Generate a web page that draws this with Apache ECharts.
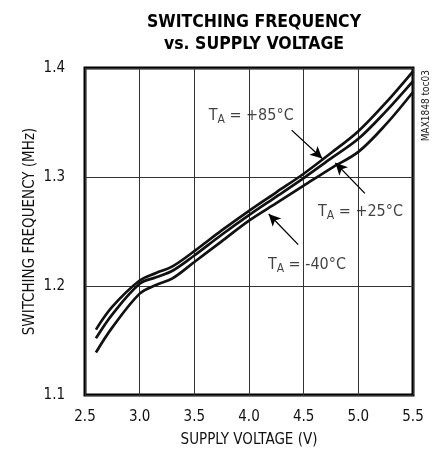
<!DOCTYPE html>
<html>
<head>
<meta charset="utf-8">
<script src="https://cdn.jsdelivr.net/npm/echarts@6/dist/echarts.min.js"></script>
<style>
html,body{margin:0;padding:0;background:#fff;}
#chart{width:435px;height:462px;}
</style>
</head>
<body>
<div id="chart"></div>
<script>
// Supply voltage (V)
var voltage = [2.6, 2.75, 3.0, 3.15, 3.3, 3.5, 3.75, 4.0, 4.25, 4.5, 4.75, 5.0, 5.25, 5.5];
// Switching frequency (MHz)
var freq85 = [1.160, 1.181, 1.205, 1.212, 1.218, 1.232, 1.251, 1.269, 1.286, 1.303, 1.322, 1.342, 1.368, 1.397];
var freq25 = [1.152, 1.174, 1.202, 1.208, 1.214, 1.228, 1.247, 1.265, 1.282, 1.299, 1.317, 1.335, 1.360, 1.388];
var freqM40 = [1.139, 1.162, 1.193, 1.201, 1.207, 1.222, 1.241, 1.260, 1.276, 1.292, 1.308, 1.323, 1.348, 1.378];
var xTicks = ['2.5','3.0','3.5','4.0','4.5','5.0','5.5'];
var yTicks = ['1.1','1.2','1.3','1.4'];
// annotation labels: [x, y, temperature text]
var labels = [[4.02, 1.356, ' = +85°C'], [5.02, 1.268, ' = +25°C'], [4.53, 1.219, ' = -40°C']];
// arrows: [fromX, fromY, toX, toY]
var arrows = [[4.39, 1.343, 4.67, 1.317], [5.06, 1.285, 4.79, 1.313], [4.45, 1.238, 4.18, 1.266]];

var FONT = "'Liberation Sans Narrow','DejaVu Sans Condensed',sans-serif";
function pairs(ys){ return voltage.map(function(v,i){ return [v, ys[i]]; }); }
function lineSeries(name, ys){
  return {name:name, type:'line', data:pairs(ys), smooth:0.35, showSymbol:false, symbol:'none',
    lineStyle:{color:'#111', width:2.7}, z:3, silent:true};
}
var chart = echarts.init(document.getElementById('chart'), null, {renderer:'canvas'});
var option = {
  animation:false,
  backgroundColor:'#fff',
  title:{
    text:'SWITCHING FREQUENCY\nvs. SUPPLY VOLTAGE',
    left:249, top:6, textAlign:'center',
    textStyle:{fontFamily:FONT, fontWeight:'bold', fontSize:17.5, lineHeight:22, color:'#000'}
  },
  grid:{left:85, right:22, top:68, bottom:67, show:true, borderColor:'#000', borderWidth:3, backgroundColor:'transparent'},
  xAxis:{
    type:'value', min:2.5, max:5.5, interval:0.5,
    name:'SUPPLY VOLTAGE (V)', nameLocation:'middle', nameGap:38, nameMoveOverlap:false,
    nameTextStyle:{fontFamily:FONT, fontSize:15, color:'#111'},
    axisLine:{show:false}, axisTick:{show:false},
    axisLabel:{fontFamily:FONT, fontSize:15, color:'#111', margin:15,
      formatter:function(v){ return xTicks[Math.round((v-2.5)/0.5)]; }},
    splitLine:{show:true, lineStyle:{color:'#333', width:1}}
  },
  yAxis:{
    type:'value', min:1.1, max:1.4, interval:0.1,
    name:'SWITCHING FREQUENCY (MHz)', nameLocation:'middle', nameGap:47, nameMoveOverlap:false,
    nameTextStyle:{fontFamily:FONT, fontSize:15, color:'#111'},
    axisLine:{show:false}, axisTick:{show:false},
    axisLabel:{fontFamily:FONT, fontSize:15, color:'#111', margin:20,
      formatter:function(v){ return yTicks[Math.round((v-1.1)/0.1)]; }},
    splitLine:{show:true, lineStyle:{color:'#333', width:1}}
  },
  series:[
    lineSeries('+85°C', freq85),
    lineSeries('+25°C', freq25),
    lineSeries('-40°C', freqM40),
    {
      type:'scatter', symbolSize:0, silent:true, z:5,
      data:labels.map(function(l){ return {value:[l[0], l[1]], txt:l[2]}; }),
      label:{show:true, position:'inside',
        formatter:function(p){ return '{t|T}{s|A}{t|' + p.data.txt + '}'; },
        rich:{
          t:{fontFamily:FONT, fontSize:16, color:'#111', lineHeight:20},
          s:{fontFamily:FONT, fontSize:12, color:'#111', lineHeight:20, padding:[8,0,0,0]}
        }
      },
      markLine:{
        silent:true, symbol:['none','arrow'], symbolSize:[9,12],
        label:{show:false},
        lineStyle:{color:'#000', width:1.3, type:'solid'},
        data:arrows.map(function(a){ return [{coord:[a[0],a[1]]},{coord:[a[2],a[3]]}]; })
      }
    }
  ],
  graphic:[{
    type:'text', left:421, top:70, rotation:Math.PI/2,
    style:{text:'MAX1848 toc03', fontFamily:FONT, fontSize:10, fill:'#222'}
  }]
};
chart.setOption(option);
</script>
</body>
</html>
